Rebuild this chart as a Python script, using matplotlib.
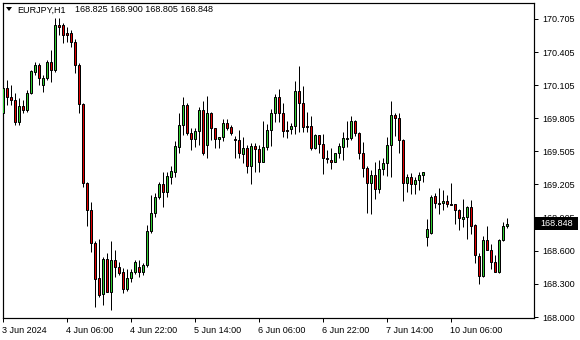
import matplotlib
matplotlib.use("Agg")
import matplotlib.pyplot as plt
import matplotlib.transforms as mtransforms
from matplotlib.patches import Polygon, Rectangle
import numpy as np

symbol = "EURJPY,H1"
last_ohlc = ["168.825", "168.900", "168.805", "168.848"]

opens = [169.852, 170.079, 169.997, 169.970, 169.770, 169.915, 169.879, 170.033, 170.224, 170.287,
         170.106, 170.169, 170.314, 170.242, 170.650, 170.650, 170.578, 170.578, 170.496, 170.287,
         169.933, 169.216, 168.972, 168.672, 168.354, 168.209, 168.527, 168.227, 168.518, 168.454,
         168.409, 168.255, 168.354, 168.409, 168.454, 168.409, 168.472, 168.781, 168.944, 169.089,
         169.207, 169.135, 169.271, 169.316, 169.543, 169.743, 169.924, 169.670, 169.616, 169.688,
         169.879, 169.561, 169.852, 169.716, 169.616, 169.634, 169.761, 169.725, 169.616, 169.607,
         169.480, 169.534, 169.371, 169.552, 169.525, 169.407, 169.543, 169.697, 169.852, 169.997,
         169.852, 169.697, 169.706, 169.734, 170.051, 169.942, 169.734, 169.734, 169.534, 169.652,
         169.570, 169.443, 169.425, 169.407, 169.489, 169.543, 169.616, 169.625, 169.779, 169.670,
         169.489, 169.353, 169.216, 169.289, 169.162, 169.344, 169.398, 169.561, 169.833, 169.806,
         169.607, 169.216, 169.271, 169.207, 169.244, 169.289, 168.726, 168.763, 169.098, 169.035,
         169.035, 169.053, 169.026, 169.026, 168.972, 168.890, 168.908, 168.999, 168.835, 168.554,
         168.373, 168.699, 168.608, 168.500, 168.409, 168.699, 168.825]
highs = [170.124, 170.151, 170.106, 170.033, 169.988, 169.970, 170.060, 170.242, 170.314, 170.305,
         170.196, 170.333, 170.423, 170.714, 170.714, 170.668, 170.632, 170.605, 170.523, 170.305,
         169.942, 169.225, 169.044, 168.690, 168.708, 168.545, 168.581, 168.690, 168.608, 168.500,
         168.445, 168.436, 168.436, 168.518, 168.518, 168.491, 168.835, 169.107, 169.126, 169.225,
         169.316, 169.316, 169.371, 169.598, 169.852, 169.997, 169.942, 169.716, 169.716, 169.906,
         169.961, 170.006, 169.861, 169.716, 169.634, 169.797, 169.797, 169.743, 169.643, 169.697,
         169.634, 169.561, 169.579, 169.579, 169.561, 169.779, 169.752, 169.888, 170.024, 170.069,
         169.942, 169.779, 169.761, 170.142, 170.278, 170.097, 169.861, 169.824, 169.661, 169.652,
         169.661, 169.516, 169.534, 169.489, 169.579, 169.679, 169.779, 169.824, 169.788, 169.679,
         169.589, 169.371, 169.334, 169.407, 169.425, 169.443, 169.634, 169.961, 169.852, 169.852,
         169.616, 169.298, 169.307, 169.271, 169.316, 169.316, 168.890, 169.107, 169.126, 169.171,
         169.153, 169.107, 169.216, 169.026, 168.981, 169.071, 169.008, 169.062, 168.844, 168.581,
         168.735, 168.826, 168.663, 168.563, 168.708, 168.863, 168.900]
lows = [169.806, 169.924, 169.924, 169.743, 169.743, 169.852, 169.861, 170.024, 170.196, 170.106,
        170.042, 170.151, 170.133, 170.224, 170.559, 170.487, 170.496, 170.450, 170.215, 169.852,
        169.180, 168.826, 168.590, 168.091, 168.182, 168.110, 168.227, 168.064, 168.364, 168.382,
        168.218, 168.236, 168.318, 168.391, 168.364, 168.382, 168.454, 168.763, 168.908, 169.071,
        168.999, 169.089, 169.207, 169.271, 169.489, 169.652, 169.652, 169.516, 169.543, 169.561,
        169.470, 169.443, 169.607, 169.534, 169.534, 169.598, 169.697, 169.652, 169.443, 169.443,
        169.398, 169.307, 169.207, 169.316, 169.316, 169.407, 169.516, 169.552, 169.770, 169.770,
        169.634, 169.625, 169.661, 169.661, 169.679, 169.679, 169.679, 169.516, 169.525, 169.489,
        169.298, 169.398, 169.344, 169.407, 169.443, 169.425, 169.543, 169.607, 169.643, 169.434,
        169.271, 168.944, 168.935, 169.071, 169.126, 169.289, 169.280, 169.271, 169.643, 169.489,
        169.053, 169.135, 169.117, 169.117, 169.153, 169.225, 168.645, 168.754, 168.990, 168.935,
        168.972, 168.999, 169.017, 168.844, 168.790, 168.817, 168.708, 168.754, 168.491, 168.300,
        168.364, 168.608, 168.436, 168.409, 168.400, 168.690, 168.805]
closes = [170.079, 169.997, 169.970, 169.770, 169.915, 169.879, 170.033, 170.233, 170.287, 170.169,
          170.169, 170.314, 170.242, 170.650, 170.632, 170.559, 170.559, 170.496, 170.287, 169.933,
          169.216, 168.972, 168.672, 168.345, 168.200, 168.527, 168.227, 168.518, 168.454, 168.400,
          168.255, 168.354, 168.409, 168.500, 168.409, 168.472, 168.781, 168.944, 169.089, 169.207,
          169.135, 169.280, 169.325, 169.552, 169.743, 169.924, 169.670, 169.616, 169.688, 169.879,
          169.489, 169.852, 169.716, 169.616, 169.634, 169.761, 169.716, 169.670, 169.607, 169.489,
          169.534, 169.371, 169.552, 169.525, 169.407, 169.543, 169.697, 169.852, 169.997, 169.852,
          169.688, 169.688, 169.734, 170.051, 169.942, 169.725, 169.725, 169.534, 169.652, 169.570,
          169.443, 169.434, 169.407, 169.489, 169.552, 169.625, 169.625, 169.779, 169.670, 169.489,
          169.353, 169.216, 169.289, 169.162, 169.344, 169.398, 169.561, 169.833, 169.806, 169.607,
          169.216, 169.271, 169.207, 169.244, 169.289, 169.316, 168.799, 169.089, 169.035, 169.026,
          169.053, 169.026, 169.017, 168.972, 168.899, 168.908, 168.999, 168.826, 168.563, 168.373,
          168.699, 168.608, 168.500, 168.409, 168.699, 168.826, 168.848]

time_labels = ["3 Jun 2024", "4 Jun 06:00", "4 Jun 22:00", "5 Jun 14:00",
               "6 Jun 06:00", "6 Jun 22:00", "7 Jun 14:00", "10 Jun 06:00"]
time_label_bars = [0, 16, 32, 48, 64, 80, 96, 112]
price_ticks = [170.705, 170.405, 170.105, 169.805, 169.505, 169.205, 168.905, 168.600, 168.300, 168.000]
current_price = 168.848

W, H = 580, 340
fig = plt.figure(figsize=(W / 100, H / 100), dpi=100)
fig.patch.set_facecolor("white")
ax = fig.add_axes([2.5 / W, 1 - 318 / H, (534 - 2.5) / W, (318 - 3) / H])
ax.set_facecolor("white")

px = 0.72  # one pixel in points
n = len(opens)
x = np.arange(n)
o = np.array(opens); c = np.array(closes); h = np.array(highs); l = np.array(lows)
up = c >= o
ax.vlines(x, l, h, color="black", linewidth=px, zorder=2)
body_bottom = np.minimum(o, c)
body_h = np.abs(c - o)
ax.bar(x[up], body_h[up], bottom=body_bottom[up], width=0.5, color="#32CD32",
       edgecolor="black", linewidth=px, zorder=3)
ax.bar(x[~up], body_h[~up], bottom=body_bottom[~up], width=0.5, color="#E00000",
       edgecolor="black", linewidth=px, zorder=3)

ax.set_xlim(-0.1, 132.7)
ax.set_ylim(167.991, 170.850)

for s in ax.spines.values():
    s.set_linewidth(px * 1.2)
    s.set_color("black")

font = "Liberation Sans"
fs = 6.5
ax.yaxis.tick_right()
ax.set_yticks(price_ticks)
ax.set_yticklabels([f"{v:.3f}" for v in price_ticks], fontsize=fs, family=font)
ax.tick_params(axis="y", direction="out", length=3, width=px, pad=3, colors="black")
ax.set_xticks(time_label_bars)
ax.set_xticklabels(time_labels, fontsize=fs, family=font, ha="left")
ax.tick_params(axis="x", direction="out", length=3, width=px, pad=2.5)
offset = mtransforms.ScaledTranslation(-1.0 / 100, 0, fig.dpi_scale_trans)
for lab in ax.get_xticklabels():
    lab.set_transform(lab.get_transform() + offset)

# current price marker on the price scale
trans = mtransforms.blended_transform_factory(ax.transAxes, ax.transData)
ax_w_px = 534 - 2.5
half_h = 6.5 / 110.2
box = Rectangle((1.0 + 1 / ax_w_px, current_price - half_h), 43 / ax_w_px, 2 * half_h,
                transform=trans, facecolor="black", edgecolor="black", lw=0,
                clip_on=False, zorder=19)
ax.add_patch(box)
ax.text(1.0 + 6 / ax_w_px, current_price, f"{current_price:.3f}", transform=trans,
        ha="left", va="center", fontsize=fs, family=font, color="white",
        zorder=20, clip_on=False)

tri = Polygon([[6 / W, 1 - 7 / H], [12 / W, 1 - 7 / H], [9 / W, 1 - 11 / H]], closed=True,
              transform=fig.transFigure, facecolor="black", edgecolor="black", lw=0)
fig.patches.append(tri)
fig.text(17 / W, 1 - 10 / H, symbol, fontsize=fs, family=font, va="center", ha="left")
fig.text(75 / W, 1 - 10 / H, " ".join(last_ohlc), fontsize=fs, family=font, va="center", ha="left")

fig.savefig("out.png", dpi=100, facecolor="white")
